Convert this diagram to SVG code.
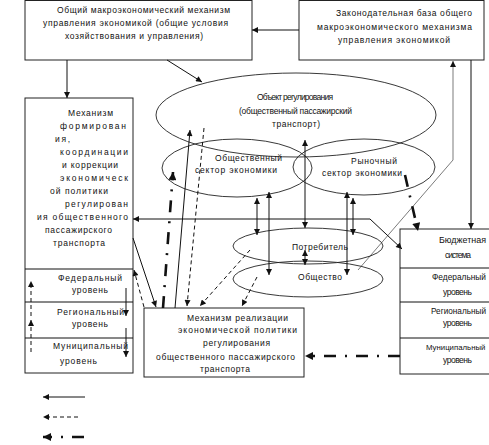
<svg xmlns="http://www.w3.org/2000/svg" width="489" height="445" viewBox="0 0 489 445">
<style>
text{font-family:"Liberation Sans",Arial,sans-serif;font-size:8.5px;fill:#111}
.box{fill:#fff;stroke:#222;stroke-width:1}
.ell{fill:none;stroke:#222;stroke-width:0.9}
.c{fill:none;stroke:#111;stroke-width:1}
.thin{fill:none;stroke:#222;stroke-width:0.6}
.d{fill:none;stroke:#111;stroke-width:1;stroke-dasharray:4,3}
.dd{fill:none;stroke:#111;stroke-width:2.6;stroke-dasharray:12,9,2,9}
</style>
<defs>
<marker id="a" viewBox="0 0 10 10" refX="10" refY="5" markerUnits="userSpaceOnUse" markerWidth="7" markerHeight="6" orient="auto-start-reverse"><path d="M0,0L10,5L0,10z" fill="#111"/></marker>
<marker id="ab" viewBox="0 0 10 10" refX="10" refY="5" markerUnits="userSpaceOnUse" markerWidth="9" markerHeight="8" orient="auto-start-reverse"><path d="M0,0L10,5L0,10z" fill="#111"/></marker>
</defs>

<g id="macro">
<rect class="box" x="25" y="0.5" width="227" height="59.5"/>
<text x="57" y="13" textLength="173" lengthAdjust="spacing">Общий макроэкономический механизм</text>
<text x="43" y="26" textLength="185" lengthAdjust="spacing">управления экономикой (общие условия</text>
<text x="65" y="39" textLength="138" lengthAdjust="spacing">хозяйствования и управления)</text>
</g>

<g id="law">
<rect class="box" x="299" y="0.5" width="185" height="59.5"/>
<text x="336" y="16" textLength="136" lengthAdjust="spacing">Законодательная база общего</text>
<text x="317" y="30" textLength="155" lengthAdjust="spacing">макроэкономического механизма</text>
<text x="338" y="43" textLength="112" lengthAdjust="spacing">управления экономикой</text>
</g>

<g id="object">
<ellipse class="ell" cx="296" cy="115" rx="140" ry="42"/>
<text x="257" y="100" textLength="76" lengthAdjust="spacing">Объект регулирования</text>
<text x="239" y="114" textLength="113" lengthAdjust="spacing">(общественный пассажирский</text>
<text x="272" y="127" textLength="48" lengthAdjust="spacing">транспорт)</text>
</g>

<g id="public">
<ellipse class="ell" cx="237" cy="168" rx="75" ry="29"/>
<text x="215" y="161" textLength="67" lengthAdjust="spacing">Общественный</text>
<text x="195" y="173" textLength="82" lengthAdjust="spacing">сектор экономики</text>
</g>

<g id="market">
<ellipse class="ell" cx="364" cy="167" rx="71" ry="28"/>
<text x="351" y="164" textLength="46" lengthAdjust="spacing">Рыночный</text>
<text x="322" y="176" textLength="80" lengthAdjust="spacing">сектор экономики</text>
</g>

<g id="consumer">
<ellipse class="ell" cx="308" cy="246" rx="75" ry="18"/>
<text x="292" y="250" textLength="56" lengthAdjust="spacing">Потребитель</text>
</g>

<g id="society">
<ellipse class="ell" cx="308" cy="279" rx="75" ry="18"/>
<text x="298" y="280" textLength="44" lengthAdjust="spacing">Общество</text>
</g>

<g id="formation">
<rect class="box" x="25" y="98" width="108" height="275"/>
<line class="c" x1="25" y1="269" x2="133" y2="269"/>
<line class="c" x1="25" y1="302" x2="133" y2="302"/>
<line class="c" x1="25" y1="338" x2="133" y2="338"/>
<text x="68" y="116" textLength="45" lengthAdjust="spacing">Механизм</text>
<text x="60" y="129" textLength="66" lengthAdjust="spacing">формирован</text>
<text x="55" y="142" textLength="15" lengthAdjust="spacing">ия,</text>
<text x="60" y="155" textLength="68" lengthAdjust="spacing">координации</text>
<text x="62" y="168" textLength="56" lengthAdjust="spacing">и коррекции</text>
<text x="60" y="181" textLength="68" lengthAdjust="spacing">экономическ</text>
<text x="50" y="194" textLength="58" lengthAdjust="spacing">ой политики</text>
<text x="65" y="207" textLength="63" lengthAdjust="spacing">регулирован</text>
<text x="37" y="220" textLength="91" lengthAdjust="spacing">ия общественного</text>
<text x="45" y="233" textLength="67" lengthAdjust="spacing">пассажирского</text>
<text x="53" y="246" textLength="52" lengthAdjust="spacing">транспорта</text>
<text x="58" y="281" textLength="64" lengthAdjust="spacing">Федеральный</text>
<text x="72" y="293" textLength="36" lengthAdjust="spacing">уровень</text>
<text x="57" y="315" textLength="67" lengthAdjust="spacing">Региональный</text>
<text x="72" y="327" textLength="36" lengthAdjust="spacing">уровень</text>
<text x="53" y="349" textLength="75" lengthAdjust="spacing">Муниципальный</text>
<text x="60" y="364" textLength="37" lengthAdjust="spacing">уровень</text>
</g>

<g id="implementation">
<rect class="box" x="144" y="308" width="160" height="69"/>
<text x="187" y="321" textLength="101" lengthAdjust="spacing">Механизм реализации</text>
<text x="178" y="333" textLength="119" lengthAdjust="spacing">экономической политики</text>
<text x="203" y="346" textLength="67" lengthAdjust="spacing">регулирования</text>
<text x="156" y="360" textLength="139" lengthAdjust="spacing">общественного пассажирского</text>
<text x="200" y="372" textLength="50" lengthAdjust="spacing">транспорта</text>
</g>

<g id="budget">
<rect class="box" x="400" y="229" width="100" height="145"/>
<line class="c" x1="400" y1="268" x2="500" y2="268"/>
<line class="c" x1="400" y1="302" x2="500" y2="302"/>
<line class="c" x1="400" y1="338" x2="500" y2="338"/>
<text x="439" y="243" textLength="47" lengthAdjust="spacingAndGlyphs">Бюджетная</text>
<text x="445" y="258" textLength="26" lengthAdjust="spacing">система</text>
<text x="432" y="280" textLength="54" lengthAdjust="spacingAndGlyphs">Федеральный</text>
<text x="443" y="295" textLength="29" lengthAdjust="spacing">уровень</text>
<text x="431" y="314" textLength="55" lengthAdjust="spacingAndGlyphs">Региональный</text>
<text x="443" y="326" textLength="29" lengthAdjust="spacing">уровень</text>
<text x="426" y="350" style="font-size:7.8px">Муниципальный</text>
<text x="443" y="363" textLength="29" lengthAdjust="spacing">уровень</text>
</g>

<g id="connectors">
<line class="c" x1="299" y1="30" x2="252" y2="30" marker-end="url(#a)"/>
<line class="c" x1="67" y1="60" x2="67" y2="98" marker-end="url(#a)"/>
<line class="c" x1="167" y1="60" x2="202" y2="82" marker-end="url(#a)"/>
<polyline class="thin" points="358,270 453,160 453,61" marker-end="url(#a)"/>
<line class="c" x1="471" y1="60" x2="471" y2="229" marker-end="url(#a)"/>
<line class="dd" x1="405" y1="175" x2="418" y2="231" marker-end="url(#ab)"/>
<polyline class="c" points="133,219 370,219 402,249" marker-start="url(#a)" marker-end="url(#a)"/>
<line class="c" x1="305" y1="140" x2="305" y2="228" marker-start="url(#a)" marker-end="url(#a)"/>
<line class="c" x1="257" y1="198" x2="257" y2="235" marker-start="url(#a)" marker-end="url(#a)"/>
<line class="c" x1="269" y1="192" x2="269" y2="275" marker-start="url(#a)" marker-end="url(#a)"/>
<line class="c" x1="347" y1="192" x2="347" y2="275" marker-start="url(#a)" marker-end="url(#a)"/>
<line class="c" x1="353" y1="198" x2="353" y2="235" marker-start="url(#a)" marker-end="url(#a)"/>
<line class="c" x1="305" y1="250" x2="305" y2="265" marker-start="url(#a)" marker-end="url(#a)"/>
<line class="c" x1="175" y1="308" x2="190" y2="130" marker-end="url(#a)"/>
<line class="d" x1="204" y1="128" x2="187" y2="306" marker-end="url(#a)"/>
<line class="dd" x1="163" y1="308" x2="173" y2="172" marker-end="url(#ab)"/>
<line class="c" x1="133" y1="238" x2="156" y2="307" marker-end="url(#a)"/>
<line class="d" x1="144" y1="307" x2="134" y2="270" marker-end="url(#a)"/>
<line class="d" x1="250" y1="250" x2="200" y2="306" marker-end="url(#a)"/>
<line class="d" x1="257" y1="277" x2="242" y2="306" marker-end="url(#a)"/>
<line class="dd" x1="400" y1="356" x2="305" y2="356" marker-end="url(#ab)"/>
<line class="d" x1="31" y1="316" x2="31" y2="281" marker-end="url(#a)"/>
<line class="d" x1="31" y1="352" x2="31" y2="320" marker-end="url(#a)"/>
<line class="c" x1="126" y1="288" x2="126" y2="316" marker-end="url(#a)"/>
<line class="c" x1="126" y1="328" x2="126" y2="357" marker-end="url(#a)"/>
</g>

<g id="legend">
<line class="c" x1="85" y1="397" x2="43" y2="397" marker-end="url(#a)"/>
<line class="d" x1="78" y1="417" x2="43" y2="417" marker-end="url(#a)"/>
<line class="dd" x1="84" y1="437" x2="43" y2="437" marker-end="url(#ab)"/>
</g>
</svg>
